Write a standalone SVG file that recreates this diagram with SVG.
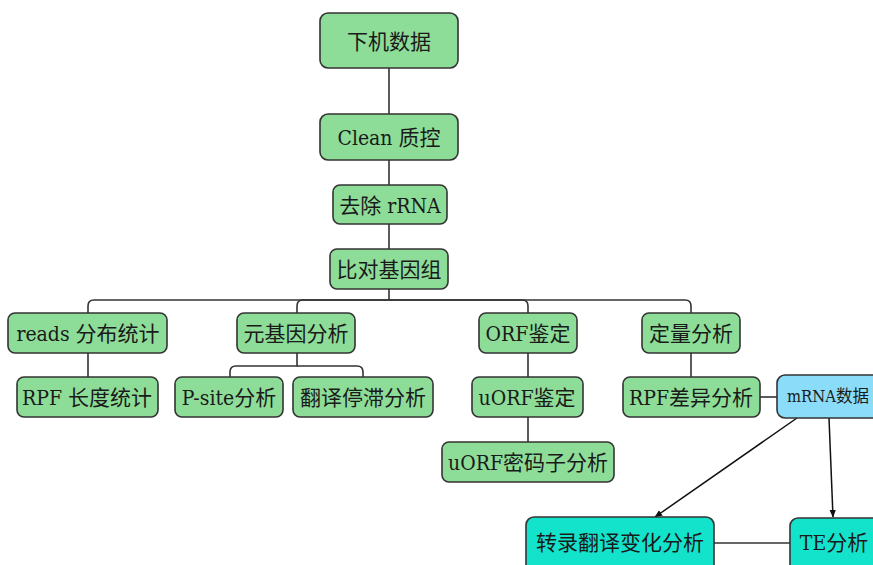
<svg xmlns="http://www.w3.org/2000/svg" width="873" height="565" viewBox="0 0 873 565">
<style>
.n rect{stroke:#333;stroke-width:1.6}
.g rect{fill:#8ddd98}
.b rect{fill:#8adcf8}
.t rect{fill:#14e3cc}
text{font-family:"DejaVu Serif","Noto Sans CJK SC",serif;font-stretch:condensed;font-size:21px;fill:#1a1a1a;text-anchor:middle}
.s{font-size:16.5px}
.c path{fill:none;stroke:#333;stroke-width:1.6}
</style>
<defs>
<marker id="ah" viewBox="0 0 10 10" refX="9" refY="5" markerWidth="8" markerHeight="8" orient="auto" markerUnits="userSpaceOnUse">
<path d="M0,1 L10,5 L0,9 z" fill="#111"/>
</marker>
</defs>
<rect width="873" height="565" fill="#fff"/>
<g class="c">
<path d="M389,68V114"/>
<path d="M389,160V185"/>
<path d="M389,224V249"/>
<path d="M389,289V300H94Q88,300 88,306V313"/>
<path d="M389,300H303Q297,300 297,306V313"/>
<path d="M389,300H522Q528,300 528,306V313"/>
<path d="M389,300H685Q691,300 691,306V313"/>
<path d="M88,353V377"/>
<path d="M297,353V366H236Q230,366 230,372V377"/>
<path d="M297,366H357Q363,366 363,372V377"/>
<path d="M528,353V377"/>
<path d="M528,417V442"/>
<path d="M691,353V377"/>
<path d="M760,397H777"/>
<path d="M714,543H790"/>
<path d="M797,418L655,517" marker-end="url(#ah)" style="stroke:#111;stroke-width:1.5"/>
<path d="M829,418L833,517" marker-end="url(#ah)" style="stroke:#111;stroke-width:1.5"/>
</g>
<g id="n1" class="n g"><rect x="320" y="13" width="138" height="55" rx="8"/><text x="389" y="49">下机数据</text></g>
<g id="n2" class="n g"><rect x="320" y="114" width="138" height="46" rx="8"/><text x="389" y="145">Clean 质控</text></g>
<g id="n3" class="n g"><rect x="333" y="185" width="114" height="39" rx="7"/><text x="390" y="213">去除 rRNA</text></g>
<g id="n4" class="n g"><rect x="330" y="249" width="118" height="40" rx="7"/><text x="389" y="277">比对基因组</text></g>
<g id="n5" class="n g"><rect x="8" y="313" width="159" height="40" rx="7"/><text x="88" y="341">reads 分布统计</text></g>
<g id="n6" class="n g"><rect x="17" y="377" width="141" height="40" rx="7"/><text x="87" y="405">RPF 长度统计</text></g>
<g id="n7" class="n g"><rect x="237" y="313" width="118" height="40" rx="7"/><text x="296" y="341">元基因分析</text></g>
<g id="n8" class="n g"><rect x="175" y="377" width="108" height="40" rx="7"/><text x="229" y="405">P-site分析</text></g>
<g id="n9" class="n g"><rect x="293" y="377" width="140" height="40" rx="7"/><text x="363" y="405">翻译停滞分析</text></g>
<g id="n10" class="n g"><rect x="479" y="313" width="98" height="40" rx="7"/><text x="528" y="341">ORF鉴定</text></g>
<g id="n11" class="n g"><rect x="472" y="377" width="111" height="40" rx="7"/><text x="527" y="405">uORF鉴定</text></g>
<g id="n12" class="n g"><rect x="442" y="442" width="172" height="40" rx="7"/><text x="528" y="470">uORF密码子分析</text></g>
<g id="n13" class="n g"><rect x="642" y="313" width="98" height="40" rx="7"/><text x="691" y="341">定量分析</text></g>
<g id="n14" class="n g"><rect x="623" y="377" width="137" height="40" rx="7"/><text x="691" y="405">RPF差异分析</text></g>
<g id="n15" class="n b"><rect x="777" y="375" width="104" height="43" rx="8"/><text class="s" x="828" y="402">mRNA数据</text></g>
<g id="n16" class="n t"><rect x="526" y="517" width="188" height="56" rx="8"/><text x="620" y="550">转录翻译变化分析</text></g>
<g id="n17" class="n t"><rect x="790" y="518" width="95" height="56" rx="8"/><text x="834" y="550">TE分析</text></g>
</svg>
